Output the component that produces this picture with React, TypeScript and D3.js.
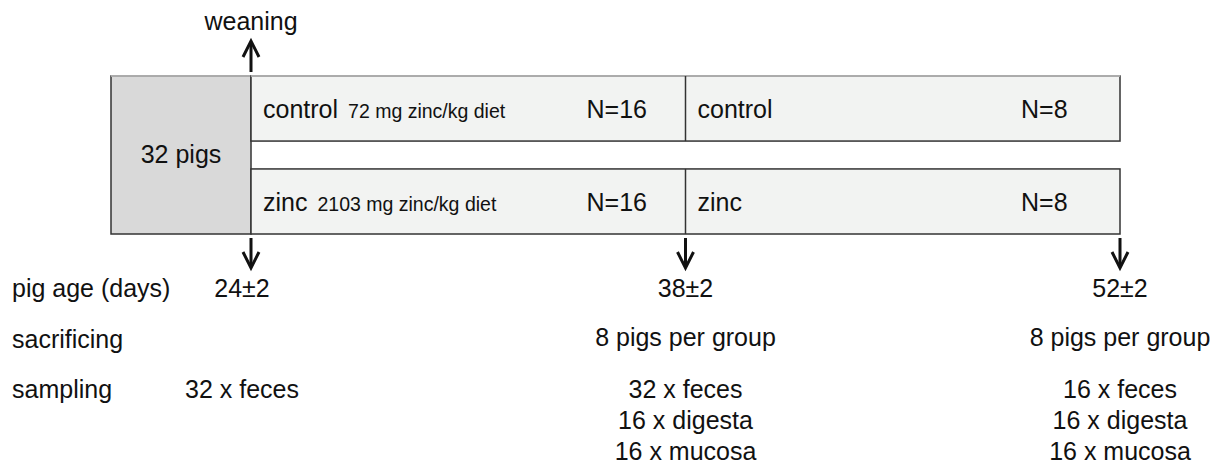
import React from 'react';
import * as d3 from 'd3';

// study timeline: pig age in days at each sampling point
const timepointDays = [24, 38, 52];
const timepointLabels = ['24±2', '38±2', '52±2'];
const rowLabels = ['pig age (days)', 'sacrificing', 'sampling'];
const sacrificing = ['', '8 pigs per group', '8 pigs per group'];
const sampling = [
  ['32 x feces'],
  ['32 x feces', '16 x digesta', '16 x mucosa'],
  ['16 x feces', '16 x digesta', '16 x mucosa'],
];
const groups = ['control', 'zinc'];
const diets = ['72 mg zinc/kg diet', '2103 mg zinc/kg diet'];
const nFirst = [16, 16];
const nSecond = [8, 8];
const startLabel = '32 pigs';
const weaningLabel = 'weaning';

const W = 1220;
const H = 466;
const FONT = '"Liberation Sans", Arial, Helvetica, sans-serif';
const INK = '#111';

function Arrow({ x, y0, y1 }: { x: number; y0: number; y1: number }) {
  // y1 = tip
  const dir = y1 > y0 ? 1 : -1;
  const head = 16;
  const half = 8;
  return (
    <g stroke={INK} strokeWidth={3} fill="none">
      <line x1={x} x2={x} y1={y0} y2={y1 - dir * 1} />
      <path
        d={`M${x - half},${y1 - dir * head} L${x},${y1} L${x + half},${y1 - dir * head}`}
        strokeLinejoin="miter"
      />
    </g>
  );
}

export default function App() {
  const x = d3.scaleLinear().domain([24, 52]).range([251, 1120]);
  const y = d3.scaleBand().domain(groups).range([76, 234]).paddingInner(0.3);

  const boxLeft = 111;
  const boxTop = 76;
  const boxBottom = 234;
  const xs = timepointDays.map((d) => x(d));
  const textCenters = [242, xs[1], xs[2]];

  return (
    <div style={{ position: 'absolute', left: 0, top: 0 }}>
      <svg width={W} height={H} style={{ display: 'block', fontFamily: FONT }}>
        <rect width={W} height={H} fill="#fff" />

        {/* pre-weaning box */}
        <rect
          x={boxLeft}
          y={boxTop}
          width={xs[0] - boxLeft}
          height={boxBottom - boxTop}
          fill="#d9d9d9"
          stroke="#333"
          strokeWidth={1.5}
        />
        <line x1={boxLeft} x2={xs[0]} y1={boxTop} y2={boxTop} stroke="#c4c4c4" strokeWidth={1.5} />
        <text x={(boxLeft + xs[0]) / 2} y={163} textAnchor="middle" fontSize={25} fill={INK}>
          {startLabel}
        </text>

        {/* treatment bars */}
        {groups.map((g, i) => {
          const top = y(g)!;
          const h = y.bandwidth();
          const base = top + h / 2 + 9.5;
          return (
            <g key={g}>
              <rect x={xs[0]} y={top} width={xs[2] - xs[0]} height={h} fill="#f2f3f2" stroke="#333" strokeWidth={1.5} />
              {i === 0 && <line x1={xs[0]} x2={xs[2]} y1={top} y2={top} stroke="#c4c4c4" strokeWidth={1.5} />}
              <line x1={xs[1]} x2={xs[1]} y1={top} y2={top + h} stroke="#333" strokeWidth={1.5} />
              <text x={xs[0] + 12} y={base} fontSize={25} fill={INK}>
                {g}
                <tspan dx={10} fontSize={19.5}>{diets[i]}</tspan>
              </text>
              <text x={xs[1] - 99} y={base} fontSize={25} fill={INK}>{`N=${nFirst[i]}`}</text>
              <text x={xs[1] + 12} y={base} fontSize={25} fill={INK}>{g}</text>
              <text x={xs[2] - 99} y={base} fontSize={25} fill={INK}>{`N=${nSecond[i]}`}</text>
            </g>
          );
        })}

        {/* weaning */}
        <text x={xs[0]} y={30} textAnchor="middle" fontSize={25} fill={INK}>{weaningLabel}</text>
        <Arrow x={xs[0]} y0={72} y1={41} />

        {/* timepoint arrows */}
        {xs.map((px, i) => (
          <Arrow key={i} x={px} y0={238} y1={268} />
        ))}

        {/* row labels */}
        {rowLabels.map((l, i) => (
          <text key={l} x={12} y={297 + i * 50.5} fontSize={25} fill={INK}>{l}</text>
        ))}

        {/* per-timepoint columns */}
        {timepointLabels.map((t, i) => (
          <g key={t} fontSize={25} fill={INK} textAnchor="middle">
            <text x={textCenters[i]} y={297}>{t}</text>
            {sacrificing[i] && <text x={textCenters[i]} y={346}>{sacrificing[i]}</text>}
            {sampling[i].map((s, j) => (
              <text key={s} x={textCenters[i]} y={398 + j * 31}>{s}</text>
            ))}
          </g>
        ))}
      </svg>
    </div>
  );
}
